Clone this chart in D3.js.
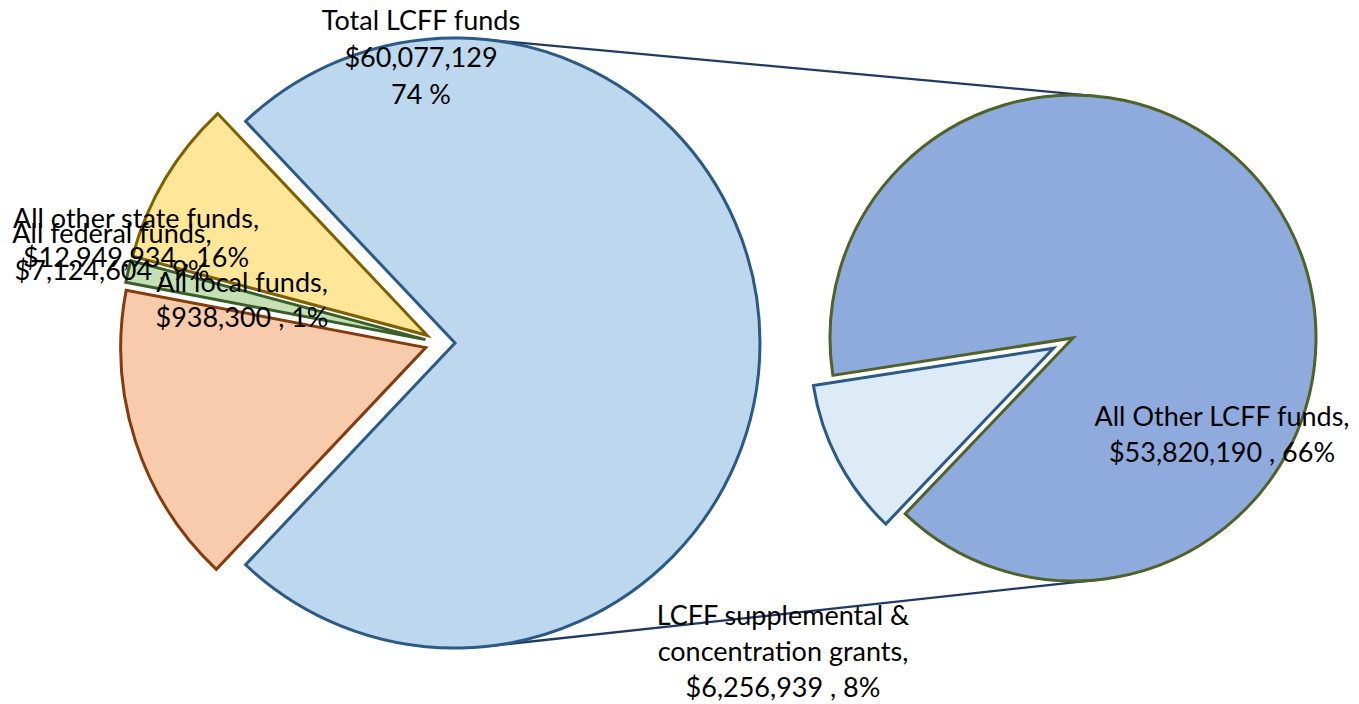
<!DOCTYPE html>
<html>
<head>
<meta charset="utf-8">
<script src="https://cdn.jsdelivr.net/npm/d3@7"></script>
<style>
  html, body { margin: 0; padding: 0; background: #fff; }
  svg { display: block; }
  text { font-family: Lato, "Open Sans", sans-serif; fill: #000; }
</style>
</head>
<body>
<svg id="chart" width="1359" height="704"></svg>
<script>
// ---- data ----
const leftCategories = ["Total LCFF funds", "All other state funds", "All local funds", "All federal funds"];
const leftValues = [60077129, 12949934, 938300, 7124604];
const leftPercents = ["74 %", "16%", "1%", "9%"];

const rightCategories = ["All Other LCFF funds", "LCFF supplemental & concentration grants"];
const rightValues = [53820190, 6256939];
const rightPercents = ["66%", "8%"];

// ---- styles / layout ----
const leftFill = ["#BDD7EE", "#F8CBAD", "#C5E0B4", "#FFE699"];
const leftStroke = ["#2B5A86", "#843C0C", "#3A5E27", "#7F6000"];
const rightFill = ["#8FAADC", "#DDEBF7"];
const rightStroke = ["#4F6228", "#2B5A86"];

const svg = d3.select("#chart");
const fmt = d3.format("$,");
const deg = Math.PI / 180;

// left pie
const L = { cx: 440, cy: 343, r: 305, explode: 15 };
const leftTotal = d3.sum(leftValues);
const bigFrac = leftValues[0] / leftTotal;
const leftStart = Math.PI / 2 - bigFrac * Math.PI; // big slice centred at 3 o'clock
const leftPie = d3.pie().sort(null).value(d => d)
  .startAngle(leftStart).endAngle(leftStart + 2 * Math.PI);
const leftArcs = leftPie(leftValues);
const leftArc = d3.arc().innerRadius(0).outerRadius(L.r);

// right pie
const R = { cx: 1073, cy: 338, r: 243, explode: 22, smallMid: 242.4 * deg };
const rightTotal = d3.sum(rightValues);
const smallFrac = rightValues[1] / rightTotal;
const rightStart = R.smallMid + smallFrac * Math.PI;
const rightPie = d3.pie().sort(null).value(d => d)
  .startAngle(rightStart).endAngle(rightStart + 2 * Math.PI);
const rightArcs = rightPie(rightValues);
const rightArc = d3.arc().innerRadius(0).outerRadius(R.r);

function offset(a, dist) {
  const m = (a.startAngle + a.endAngle) / 2;
  return [Math.sin(m) * dist, -Math.cos(m) * dist];
}

// connector lines: external tangents between the exploded big slice circle and right pie
const c1 = [L.cx + L.explode, L.cy], r1 = L.r;
const c2 = [R.cx, R.cy], r2 = R.r;
const dx = c2[0] - c1[0], dy = c2[1] - c1[1];
const dist = Math.hypot(dx, dy);
const base = Math.atan2(dy, dx);
const phi = Math.acos((r1 - r2) / dist);
[base - phi, base + phi].forEach(t => {
  const n = [Math.cos(t), Math.sin(t)];
  svg.append("line")
    .attr("x1", c1[0] + r1 * n[0]).attr("y1", c1[1] + r1 * n[1])
    .attr("x2", c2[0] + r2 * n[0]).attr("y2", c2[1] + r2 * n[1])
    .attr("stroke", "#1F3A64").attr("stroke-width", 2.3);
});

// left slices
const gL = svg.append("g").attr("transform", `translate(${L.cx},${L.cy})`);
gL.selectAll("path").data(leftArcs).join("path")
  .attr("transform", d => { const o = offset(d, L.explode); return `translate(${o[0]},${o[1]})`; })
  .attr("d", leftArc)
  .attr("fill", (d, i) => leftFill[i])
  .attr("stroke", (d, i) => leftStroke[i])
  .attr("stroke-width", 3)
  .attr("stroke-linejoin", "miter");

// right slices
const gR = svg.append("g").attr("transform", `translate(${R.cx},${R.cy})`);
gR.selectAll("path").data(rightArcs).join("path")
  .attr("transform", (d, i) => { const o = offset(d, i === 1 ? R.explode : 0); return `translate(${o[0]},${o[1]})`; })
  .attr("d", rightArc)
  .attr("fill", (d, i) => rightFill[i])
  .attr("stroke", (d, i) => rightStroke[i])
  .attr("stroke-width", 3)
  .attr("stroke-linejoin", "miter");

// ---- labels ----
const FS = 27;
function label(x, y, lines, lh) {
  const t = svg.append("text").attr("x", x).attr("y", y)
    .attr("text-anchor", "middle").attr("font-size", FS);
  lines.forEach((s, i) => {
    t.append("tspan").attr("x", x).attr("y", y + i * lh).text(s);
  });
}

// positions of label centres / first baselines / line heights
const leftLabelPos = [[421, 30, 37], [136, 228, 39], [242, 292, 35], [112, 243, 37]];
const rightLabelPos = [[1222, 426, 36], [783, 625, 36]];

leftCategories.forEach((c, i) => {
  const p = leftLabelPos[i];
  if (i === 0) {
    label(p[0], p[1], [c, fmt(leftValues[i]), leftPercents[i]], p[2]);
  } else {
    label(p[0], p[1], [c + ",", fmt(leftValues[i]) + " , " + leftPercents[i]], p[2]);
  }
});

label(rightLabelPos[0][0], rightLabelPos[0][1],
  [rightCategories[0] + ",", fmt(rightValues[0]) + " , " + rightPercents[0]], rightLabelPos[0][2]);
label(rightLabelPos[1][0], rightLabelPos[1][1],
  ["LCFF supplemental &", "concentration grants,", fmt(rightValues[1]) + " , " + rightPercents[1]], rightLabelPos[1][2]);
</script>
</body>
</html>
